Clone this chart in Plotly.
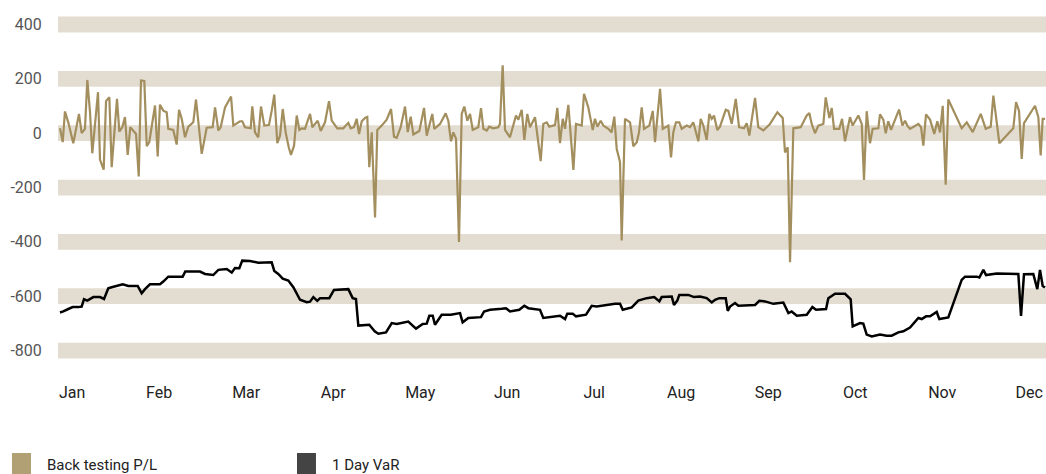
import plotly.graph_objects as go

# ---- data (time in months since start of Jan, values in currency units) ----
months = ["Jan", "Feb", "Mar", "Apr", "May", "Jun", "Jul", "Aug", "Sep", "Oct", "Nov", "Dec"]
y_ticks = [400, 200, 0, -200, -400, -600, -800]
y_tick_text = ["400", "200", "0", "-200", "-400", "-600", "-800"]

pl_t = [0.000, 0.031, 0.057, 0.095, 0.153, 0.218, 0.249, 0.287, 0.314, 0.345, 0.371, 0.437, 0.460, 0.502,
        0.529, 0.567, 0.594, 0.655, 0.682, 0.716, 0.747, 0.778, 0.808, 0.874, 0.905, 0.931, 0.969, 0.997,
        1.026, 1.092, 1.123, 1.149, 1.187, 1.226, 1.245, 1.302, 1.341, 1.368, 1.399, 1.437, 1.475, 1.532,
        1.563, 1.629, 1.686, 1.755, 1.782, 1.820, 1.847, 1.897, 1.966, 1.992, 2.069, 2.095, 2.126, 2.192,
        2.210, 2.241, 2.279, 2.310, 2.348, 2.402, 2.433, 2.463, 2.498, 2.529, 2.560, 2.594, 2.629, 2.655,
        2.690, 2.721, 2.751, 2.778, 2.816, 2.874, 2.900, 2.962, 2.997, 3.046, 3.092, 3.123, 3.187, 3.256,
        3.314, 3.341, 3.379, 3.410, 3.437, 3.468, 3.506, 3.532, 3.555, 3.583, 3.621, 3.647, 3.698, 3.755,
        3.805, 3.839, 3.870, 3.916, 3.966, 3.997, 4.031, 4.061, 4.130, 4.184, 4.215, 4.279, 4.302, 4.368,
        4.433, 4.463, 4.494, 4.521, 4.552, 4.586, 4.617, 4.647, 4.682, 4.713, 4.744, 4.808, 4.839, 4.866,
        4.905, 4.934, 4.980, 5.038, 5.057, 5.088, 5.115, 5.172, 5.241, 5.268, 5.307, 5.337, 5.371, 5.402,
        5.460, 5.525, 5.555, 5.594, 5.624, 5.690, 5.716, 5.747, 5.778, 5.805, 5.843, 5.901, 5.931, 5.997,
        6.023, 6.072, 6.123, 6.149, 6.176, 6.215, 6.245, 6.302, 6.341, 6.371, 6.399, 6.437, 6.456, 6.494,
        6.552, 6.590, 6.629, 6.655, 6.686, 6.713, 6.774, 6.813, 6.839, 6.897, 6.928, 6.992, 7.023, 7.049,
        7.080, 7.118, 7.146, 7.203, 7.241, 7.279, 7.337, 7.364, 7.394, 7.433, 7.463, 7.491, 7.517, 7.555,
        7.586, 7.652, 7.682, 7.721, 7.767, 7.805, 7.862, 7.893, 7.923, 7.989, 8.026, 8.084, 8.161, 8.245,
        8.307, 8.333, 8.364, 8.391, 8.429, 8.514, 8.583, 8.613, 8.640, 8.678, 8.716, 8.774, 8.801, 8.843,
        8.870, 8.897, 8.957, 8.989, 9.023, 9.080, 9.111, 9.176, 9.215, 9.241, 9.272, 9.310, 9.341, 9.406,
        9.425, 9.463, 9.491, 9.520, 9.552, 9.644, 9.682, 9.713, 9.739, 9.770, 9.866, 9.897, 9.923, 9.954,
        10.000, 10.049, 10.084, 10.115, 10.146, 10.180, 10.210, 10.364, 10.422, 10.491, 10.583, 10.640,
        10.698, 10.728, 10.797, 10.957, 10.989, 11.023, 11.054, 11.080, 11.207, 11.245, 11.272, 11.295, 11.322]
pl_val = [18, -33, 80, 40, -37, 71, 0, 16, 196, 77, -74, 151, -98, -134,
          118, 132, -125, 126, 6, 22, 59, -80, 22, -3, -159, 194, 192, -48,
          -33, 102, -86, 105, 83, 77, 16, 12, -42, 86, 53, -15, 24, 40,
          124, -76, 20, 22, 95, 10, 22, 95, 135, 28, 44, 44, 22, 18,
          99, 3, -15, 98, 28, 30, 82, 142, -37, -9, 89, 3, -52, -80,
          -46, 65, 12, 18, 16, 71, 22, 46, 8, 40, 118, 46, 18, 18,
          38, 18, 22, 53, -3, 44, 56, 60, -125, 3, -310, 12, 28, 50,
          89, -13, -17, 22, 98, 4, 61, -5, 8, 93, -9, 71, 16, 34,
          73, 46, -30, 3, -20, -400, 71, 98, 46, 71, 12, 22, 92, 16,
          10, 24, 18, 22, 34, 250, 12, -15, 65, 50, 86, -25, 71, 22,
          59, -103, 34, 40, 24, 30, 93, -37, 53, 16, 104, -135, 34, 28,
          145, 95, 12, 53, 24, 46, 28, 16, 3, 61, -58, -107, -395, 53,
          40, -48, -33, 3, 95, 16, 28, 82, -33, 163, 16, 28, -89, 3,
          40, 40, 16, 28, 22, 40, -30, 53, 28, -25, 71, 53, 65, 12,
          24, 86, 82, 34, 126, 22, 18, 37, -9, 130, 22, 10, 34, 77,
          56, -71, -52, -475, 18, 22, 65, 74, 34, 0, 28, 34, 132, 56,
          93, 16, 16, 53, -30, 59, 28, 65, 34, -172, 81, -37, 16, 18,
          69, 50, 0, 44, 12, 87, 28, 46, 28, 16, 34, 22, -46, 69,
          50, -3, 44, 3, 101, -190, 124, 18, 40, 4, 71, 16,
          24, 138, -37, 18, 114, 82, -95, 37, 101, 59, -82, 53, 53]

var_t = [0.000, 0.038, 0.095, 0.146, 0.210, 0.249, 0.276, 0.314, 0.383, 0.460, 0.506, 0.555, 0.594, 0.659,
         0.721, 0.785, 0.893, 0.939, 0.977, 1.034, 1.149, 1.187, 1.245, 1.410, 1.440, 1.609, 1.667, 1.762,
         1.820, 1.916, 1.974, 2.011, 2.061, 2.095, 2.184, 2.279, 2.433, 2.463, 2.509, 2.560, 2.624, 2.682,
         2.721, 2.759, 2.836, 2.874, 2.912, 2.957, 2.989, 3.095, 3.149, 3.314, 3.364, 3.402, 3.429, 3.555,
         3.617, 3.659, 3.747, 3.813, 3.870, 4.003, 4.092, 4.169, 4.215, 4.245, 4.284, 4.310, 4.387, 4.491,
         4.598, 4.628, 4.693, 4.839, 4.874, 4.943, 5.077, 5.126, 5.172, 5.279, 5.337, 5.383, 5.517, 5.555,
         5.747, 5.805, 5.831, 5.893, 5.931, 6.046, 6.111, 6.168, 6.379, 6.437, 6.468, 6.572, 6.647, 6.743,
         6.830, 6.889, 6.916, 7.031, 7.057, 7.095, 7.118, 7.222, 7.287, 7.356, 7.433, 7.491, 7.529, 7.578,
         7.652, 7.675, 7.701, 7.759, 7.797, 7.989, 8.038, 8.103, 8.199, 8.314, 8.372, 8.410, 8.468, 8.583,
         8.648, 8.690, 8.805, 8.831, 8.908, 9.023, 9.088, 9.111, 9.195, 9.233, 9.272, 9.330, 9.425, 9.502,
         9.559, 9.636, 9.693, 9.770, 9.866, 9.905, 9.954, 10.000, 10.077, 10.107, 10.210, 10.364, 10.402,
         10.537, 10.567, 10.613, 10.644, 10.767, 11.015, 11.046, 11.080, 11.187, 11.233, 11.264, 11.295, 11.322]
var_val = [-660, -656, -647, -640, -640, -638, -611, -616, -603, -603, -610, -571, -567, -560,
           -556, -562, -562, -589, -574, -556, -556, -546, -528, -528, -509, -509, -518, -522,
           -503, -500, -513, -496, -497, -469, -470, -477, -475, -507, -518, -535, -542, -567,
           -592, -613, -622, -620, -603, -617, -607, -607, -577, -574, -607, -610, -708, -705,
           -729, -738, -733, -699, -702, -693, -719, -702, -701, -672, -672, -705, -668, -668,
           -662, -696, -680, -677, -656, -650, -646, -644, -656, -650, -635, -644, -650, -680,
           -672, -684, -664, -664, -674, -668, -635, -638, -628, -628, -650, -641, -616, -607,
           -603, -619, -603, -601, -632, -616, -595, -595, -603, -601, -607, -623, -613, -607,
           -607, -654, -638, -625, -635, -632, -617, -619, -628, -623, -662, -656, -672, -668,
           -640, -650, -647, -607, -591, -591, -611, -711, -699, -701, -741, -748, -741, -745,
           -745, -733, -729, -715, -680, -684, -674, -674, -658, -684, -678, -540, -528,
           -528, -531, -503, -522, -516, -518, -672, -519, -518, -574, -503, -562, -568]

series_names = ["Back testing P/L", "1 Day VaR"]

# ---- styles ----
PL_COLOR = "#a38e5e"
PL_SWATCH = "#b0a073"
VAR_COLOR = "#000000"
VAR_SWATCH = "#444444"
BAND_COLOR = "#e3ddd1"
FONT = "Roboto, 'Noto Sans', sans-serif"

fig = go.Figure()
fig.add_trace(go.Scatter(x=pl_t, y=pl_val, mode="lines", name=series_names[0],
                         line=dict(color=PL_COLOR, width=2.2), showlegend=False))
fig.add_trace(go.Scatter(x=var_t, y=var_val, mode="lines", name=series_names[1],
                         line=dict(color=VAR_COLOR, width=2.5), showlegend=False))

# horizontal bands centred on each y tick
for v in y_ticks:
    fig.add_shape(type="rect", xref="paper", x0=0, x1=1, yref="y", y0=v - 29, y1=v + 29,
                  fillcolor=BAND_COLOR, line=dict(width=0), layer="below")

# custom legend (squares + labels below the plot)
legend_items = [
    (series_names[0], PL_SWATCH, -0.0466, -0.0273, -0.0132),
    (series_names[1], VAR_SWATCH, 0.2419, 0.2611, 0.2753),
]
for name, col, sx0, sx1, tx in legend_items:
    fig.add_shape(type="rect", xref="paper", yref="paper", x0=sx0, x1=sx1, y0=-0.30, y1=-0.2225,
                  fillcolor=col, line=dict(width=0))
    fig.add_annotation(xref="paper", yref="paper", x=tx, y=-0.2555, text=name, showarrow=False,
                       xanchor="left", yanchor="middle", font=dict(family=FONT, size=15, color="#222222"))

fig.update_layout(
    width=1046, height=474,
    margin=dict(l=58, r=0, t=8, b=102),
    plot_bgcolor="white", paper_bgcolor="white",
    font=dict(family=FONT, size=16, color="#444444"),
    showlegend=False,
    xaxis=dict(range=[-0.023, 11.333], showgrid=False, zeroline=False, showline=False, automargin=False,
               tickmode="array", tickvals=[i + 0.14 for i in range(len(months))], ticktext=months,
               ticks="outside", ticklen=6, tickcolor="rgba(0,0,0,0)",
               tickfont=dict(family=FONT, size=16, color="#222222")),
    yaxis=dict(range=[-878.8, 460.7], showgrid=False, zeroline=False, showline=False, automargin=False,
               tickmode="array", tickvals=y_ticks, ticktext=y_tick_text,
               ticks="outside", ticklen=12, tickcolor="rgba(0,0,0,0)",
               tickfont=dict(family=FONT, size=16, color="#555555")),
)

fig.write_html("out.html", config={"displayModeBar": False},
               post_script="document.body.style.margin='0';document.body.style.padding='0';")
